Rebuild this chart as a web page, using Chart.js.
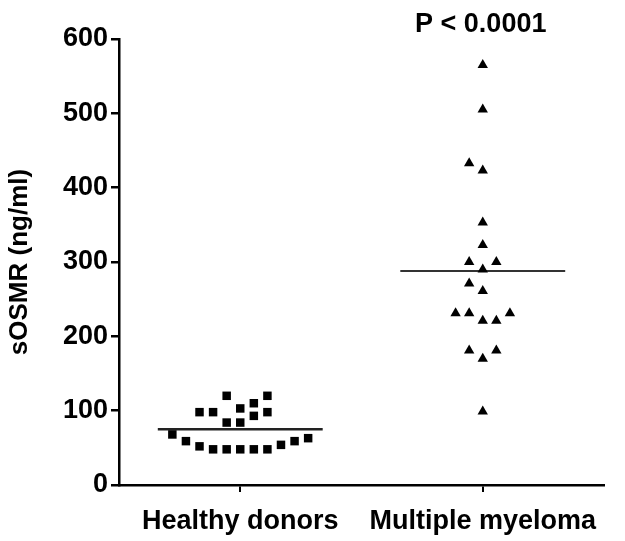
<!DOCTYPE html>
<html>
<head>
<meta charset="utf-8">
<script src="https://cdn.jsdelivr.net/npm/chart.js@4/dist/chart.umd.min.js"></script>
<style>
  html, body { margin: 0; padding: 0; background: #fff; }
  #wrap { width: 625px; height: 541px; position: relative; }
</style>
</head>
<body>
<div id="wrap"><canvas id="dotChart"></canvas></div>
<script>
// categories and y ticks
const categories = ['Healthy donors', 'Multiple myeloma'];
const yTicks = [0, 100, 200, 300, 400, 500, 600];
const pValueText = 'P < 0.0001';

// sOSMR (ng/ml) per subject, with the scatter column each dot sits in
const healthyValues = [68, 59, 52, 98, 48, 98, 48, 84, 120, 48, 84, 103, 48, 93, 110, 48, 98, 120, 54, 59, 63];
const healthyColumn = [-5, -4, -3, -3, -2, -2, -1, -1, -1, 0, 0, 0, 1, 1, 1, 2, 2, 2, 3, 4, 5];
const myelomaValues = [565, 505, 423, 353, 323, 290, 261, 221, 170, 99, 433, 300, 271, 231, 181, 300, 221, 181, 231, 231];
const myelomaColumn = [0, 0, 0, 0, 0, 0, 0, 0, 0, 0, -1, -1, -1, -1, -1, 1, 1, 1, -2, 2];

// medians
const medians = [75, 288];

const font = '"Liberation Sans", Arial, Helvetica, sans-serif';
const colStep = 0.056;
const halfLine = 0.34;

function toPoints(values, cols, catIndex) {
    return values.map((v, i) => ({ x: catIndex + 1 + cols[i] * colStep, y: v }));
}

function medianLine(catIndex) {
    return [
        { x: catIndex + 1 - halfLine, y: medians[catIndex] },
        { x: catIndex + 1 + halfLine, y: medians[catIndex] }
    ];
}

// P value written above the myeloma column
const pValuePlugin = {
    id: 'pValue',
    afterDraw(chart) {
        const ctx = chart.ctx;
        const x = chart.scales.x.getPixelForValue(2);
        ctx.save();
        ctx.font = 'bold 27px ' + font;
        ctx.fillStyle = '#000';
        ctx.textAlign = 'center';
        ctx.textBaseline = 'middle';
        ctx.fillText(pValueText, x - 2, 25);
        ctx.restore();
    }
};

new Chart(document.getElementById('dotChart'), {
    type: 'scatter',
    data: {
        datasets: [
            {
                label: categories[0],
                data: toPoints(healthyValues, healthyColumn, 0),
                pointStyle: 'rect',
                pointRadius: 6,
                pointHoverRadius: 6,
                backgroundColor: '#000',
                borderColor: '#000',
                borderWidth: 0
            },
            {
                label: categories[1],
                data: toPoints(myelomaValues, myelomaColumn, 1),
                pointStyle: 'triangle',
                pointRadius: 6,
                pointHoverRadius: 6,
                backgroundColor: '#000',
                borderColor: '#000',
                borderWidth: 0
            },
            {
                label: 'median healthy',
                type: 'line',
                data: medianLine(0),
                borderColor: '#222',
                borderWidth: 2.5,
                pointRadius: 0,
                fill: false
            },
            {
                label: 'median myeloma',
                type: 'line',
                data: medianLine(1),
                borderColor: '#333',
                borderWidth: 2,
                pointRadius: 0,
                fill: false
            }
        ]
    },
    options: {
        responsive: true,
        maintainAspectRatio: false,
        animation: false,
        layout: { padding: { top: 39, right: 21, bottom: 0, left: 0 } },
        plugins: {
            legend: { display: false },
            tooltip: { enabled: false }
        },
        scales: {
            x: {
                type: 'linear',
                min: 0.5,
                max: 2.5,
                afterBuildTicks: (scale) => {
                    scale.ticks = categories.map((c, i) => ({ value: i + 1 }));
                },
                afterFit: (scale) => { scale.height = 56; },
                ticks: {
                    callback: (v) => categories[v - 1],
                    color: '#000',
                    padding: 13,
                    maxRotation: 0,
                    autoSkip: false,
                    font: { family: font, size: 27, weight: 'bold' }
                },
                grid: {
                    drawOnChartArea: false,
                    drawTicks: true,
                    tickLength: 7,
                    color: '#000',
                    lineWidth: 2
                },
                border: { display: true, color: '#000', width: 2.5 }
            },
            y: {
                min: 0,
                max: 600,
                afterBuildTicks: (scale) => {
                    scale.ticks = yTicks.map(v => ({ value: v }));
                },
                afterFit: (scale) => { scale.width = 119; },
                ticks: {
                    color: '#000',
                    padding: 3,
                    font: { family: font, size: 27, weight: 'bold' }
                },
                title: {
                    display: true,
                    text: 'sOSMR (ng/ml)',
                    color: '#000',
                    padding: { top: 4, bottom: 0 },
                    font: { family: font, size: 26, weight: 'bold' }
                },
                grid: {
                    drawOnChartArea: false,
                    drawTicks: true,
                    tickLength: 8,
                    color: '#000',
                    lineWidth: 2.5
                },
                border: { display: true, color: '#000', width: 2.5 }
            }
        }
    },
    plugins: [pValuePlugin]
});
</script>
</body>
</html>
